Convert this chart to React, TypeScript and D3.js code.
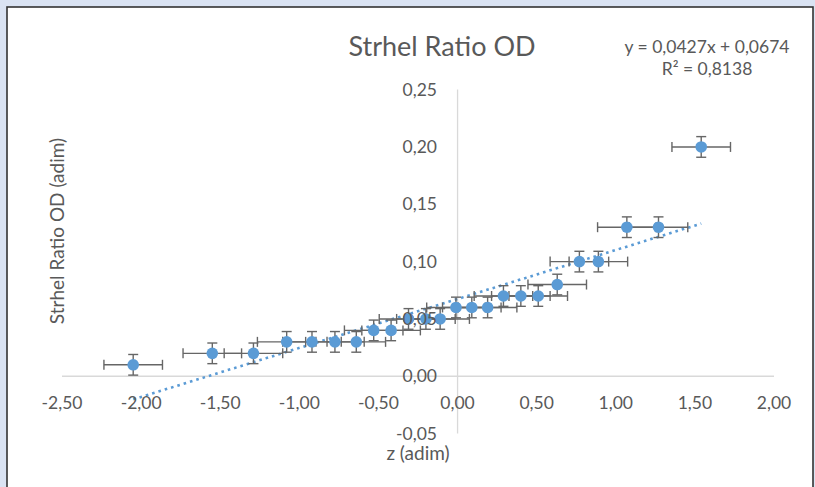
import React from "react";
import * as d3 from "d3";

// ---- data ----
const zValues = [-2.05, -1.55, -1.29, -1.08, -0.92, -0.775, -0.64, -0.53, -0.42, -0.31, -0.2, -0.11, -0.01, 0.09, 0.19, 0.29, 0.4, 0.51, 0.63, 0.77, 0.89, 1.07, 1.27, 1.54];
const strehlValues = [0.01, 0.02, 0.02, 0.03, 0.03, 0.03, 0.03, 0.04, 0.04, 0.05, 0.05, 0.05, 0.06, 0.06, 0.06, 0.07, 0.07, 0.07, 0.08, 0.1, 0.1, 0.13, 0.13, 0.2];
const zErrors = [0.185, 0.185, 0.185, 0.185, 0.185, 0.185, 0.185, 0.185, 0.185, 0.185, 0.185, 0.185, 0.185, 0.185, 0.185, 0.185, 0.185, 0.185, 0.185, 0.185, 0.185, 0.185, 0.185, 0.185];
const strehlErrors = [0.009, 0.009, 0.009, 0.009, 0.009, 0.009, 0.009, 0.009, 0.009, 0.009, 0.009, 0.009, 0.009, 0.009, 0.009, 0.009, 0.009, 0.009, 0.009, 0.009, 0.009, 0.009, 0.009, 0.009];
const xTicks = [-2.5, -2.0, -1.5, -1.0, -0.5, 0.0, 0.5, 1.0, 1.5, 2.0];
const yTicks = [-0.05, 0.0, 0.05, 0.1, 0.15, 0.2, 0.25];
const trendSlope = 0.0427;
const trendIntercept = 0.0674;
const titleText = "Strhel Ratio OD";
const xTitle = "z (adim)";
const yTitle = "Strhel Ratio OD (adim)";
const eqLine1 = "y = 0,0427x + 0,0674";
const eqLine2 = "R² = 0,8138";

const W = 815;
const H = 487;
const FONT = "Lato, 'Open Sans', sans-serif";
const TXT = "#595959";
const BLUE = "#5b9bd5";
const ERR = "#666666";

const fmt = (v: number) => v.toFixed(2).replace(".", ",");

export default function App() {
  const x = d3.scaleLinear().domain([-2.5, 2.0]).range([62, 774]);
  const y = d3.scaleLinear().domain([-0.05, 0.25]).range([433.6, 89.6]);

  const xExt = d3.extent(zValues) as [number, number];
  const trendPts: [number, number][] = [xExt[0], xExt[1]].map((v) => [v, trendSlope * v + trendIntercept]);
  const line = d3
    .line<[number, number]>()
    .x((d) => x(d[0]))
    .y((d) => y(d[1]));

  const cap = 5;

  return (
    <div style={{ position: "absolute", left: 0, top: 0, width: W, height: H }}>
      <svg width={W} height={H} style={{ display: "block" }}>
        <rect x={0} y={0} width={W} height={H} fill="#dae3f3" />
        <rect x={7} y={7} width={806} height={H} fill="#ffffff" stroke="#333333" strokeWidth={1.6} />

        {/* axes */}
        <line x1={x(-2.5)} x2={x(2.0)} y1={y(0)} y2={y(0)} stroke="#d9d9d9" strokeWidth={1.3} />
        <line x1={x(0)} x2={x(0)} y1={y(-0.05)} y2={y(0.25)} stroke="#d9d9d9" strokeWidth={1.3} />

        {/* trendline */}
        <path d={line(trendPts) || ""} fill="none" stroke={BLUE} strokeWidth={2.6} strokeDasharray="2.6 4" />

        {/* error bars */}
        <g stroke={ERR} strokeWidth={1.4} fill="none">
          {zValues.map((zv, i) => {
            const cx = x(zv);
            const cy = y(strehlValues[i]);
            const xl = x(zv - zErrors[i]);
            const xr = x(zv + zErrors[i]);
            const yt = y(strehlValues[i] + strehlErrors[i]);
            const yb = y(strehlValues[i] - strehlErrors[i]);
            return (
              <g key={i}>
                <line x1={xl} x2={xr} y1={cy} y2={cy} />
                <line x1={xl} x2={xl} y1={cy - cap} y2={cy + cap} />
                <line x1={xr} x2={xr} y1={cy - cap} y2={cy + cap} />
                <line x1={cx} x2={cx} y1={yt} y2={yb} />
                <line x1={cx - cap} x2={cx + cap} y1={yt} y2={yt} />
                <line x1={cx - cap} x2={cx + cap} y1={yb} y2={yb} />
              </g>
            );
          })}
        </g>

        {/* markers */}
        <g fill={BLUE}>
          {zValues.map((zv, i) => (
            <circle key={i} cx={x(zv)} cy={y(strehlValues[i])} r={5.8} />
          ))}
        </g>

        {/* tick labels */}
        <g fontFamily={FONT} fontSize={17.5} fill={TXT}>
          {xTicks.map((t) => (
            <text key={"x" + t} x={x(t)} y={403} dy="0.35em" textAnchor="middle">
              {fmt(t)}
            </text>
          ))}
          {yTicks.map((t) => (
            <text key={"y" + t} x={437} y={y(t)} dy="0.35em" textAnchor="end">
              {fmt(t)}
            </text>
          ))}
        </g>

        {/* titles */}
        <text x={442} y={47} dy="0.35em" textAnchor="middle" fontFamily={FONT} fontSize={27} fill={TXT}>
          {titleText}
        </text>
        <text x={418} y={453} dy="0.35em" textAnchor="middle" fontFamily={FONT} fontSize={19} fill={TXT}>
          {xTitle}
        </text>
        <text
          transform={`translate(57,231) rotate(-90)`}
          dy="0.35em"
          textAnchor="middle"
          fontFamily={FONT}
          fontSize={19}
          fill={TXT}
        >
          {yTitle}
        </text>
        <g fontFamily={FONT} fontSize={17.5} fill={TXT} textAnchor="middle">
          <text x={707} y={47} dy="0.35em">{eqLine1}</text>
          <text x={707} y={69} dy="0.35em">{eqLine2}</text>
        </g>
      </svg>
    </div>
  );
}
